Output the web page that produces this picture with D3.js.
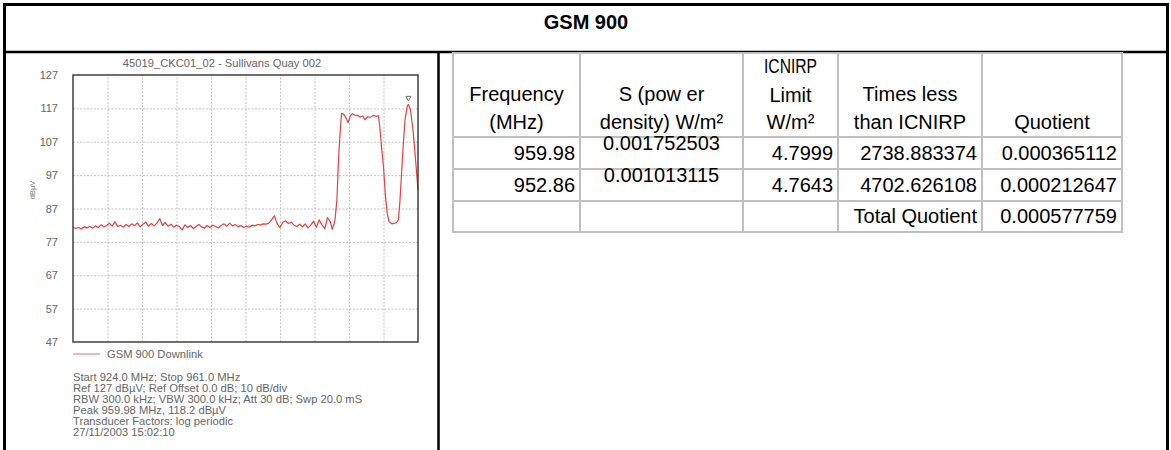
<!DOCTYPE html>
<html>
<head>
<meta charset="utf-8">
<script src="https://cdn.jsdelivr.net/npm/d3@7"></script>
<style>
  html, body { margin: 0; padding: 0; background: #fff; }
  svg { display: block; font-family: "Liberation Sans", Arial, sans-serif; }
</style>
</head>
<body>
<div id="chart"></div>
<script>
// spectrum trace [MHz, dBuV]
const trace = [
  [924.0, 81.4], [924.3, 81.0], [924.6, 81.3], [924.9, 80.9], [925.2, 81.5], [925.5, 81.2],
  [925.8, 81.6], [926.1, 81.1], [926.4, 81.8], [926.7, 81.3], [927.0, 82.1], [927.3, 81.5],
  [927.6, 81.9], [927.9, 82.6], [928.2, 81.7], [928.5, 83.0], [928.8, 81.6], [929.1, 82.0],
  [929.4, 81.4], [929.7, 82.2], [930.0, 81.6], [930.3, 82.4], [930.6, 81.8], [930.9, 82.7],
  [931.2, 81.5], [931.5, 82.3], [931.8, 82.9], [932.1, 81.7], [932.4, 82.5], [932.7, 81.8],
  [933.0, 82.6], [933.3, 84.0], [933.6, 81.9], [933.9, 82.8], [934.2, 81.7], [934.5, 82.3],
  [934.8, 81.4], [935.1, 82.0], [935.4, 81.6], [935.7, 80.6], [936.0, 82.1], [936.3, 81.3],
  [936.6, 81.9], [936.9, 81.0], [937.2, 81.6], [937.5, 82.2], [937.8, 81.5], [938.1, 81.1],
  [938.4, 81.9], [938.7, 81.3], [939.0, 82.0], [939.3, 81.6], [939.6, 81.2], [939.9, 81.9],
  [940.2, 82.4], [940.5, 81.7], [940.8, 82.6], [941.1, 81.8], [941.4, 82.2], [941.7, 81.5],
  [942.0, 81.9], [942.3, 81.3], [942.6, 81.7], [942.9, 81.4], [943.2, 82.0], [943.5, 81.8],
  [943.8, 82.2], [944.1, 82.1], [944.4, 82.4], [944.7, 82.3], [945.0, 82.6], [945.3, 83.6],
  [945.6, 84.8], [945.9, 82.4], [946.2, 81.3], [946.5, 82.8], [946.8, 83.3], [947.1, 82.5],
  [947.4, 82.9], [947.7, 82.0], [948.0, 81.6], [948.3, 82.3], [948.6, 81.5], [948.9, 82.4],
  [949.2, 81.2], [949.5, 82.0], [949.8, 83.2], [950.1, 81.4], [950.4, 83.6], [950.7, 82.1],
  [951.0, 81.0], [951.3, 84.3], [951.6, 83.0], [951.8, 80.8], [952.0, 82.5], [952.1, 83.6],
  [952.3, 89.5], [952.5, 103.0], [952.65, 110.0], [952.8, 115.5], [953.05, 115.2], [953.3, 114.0],
  [953.5, 112.7], [953.75, 114.8], [953.95, 115.4], [954.2, 115.0], [954.5, 114.9], [954.8, 114.4],
  [955.1, 114.7], [955.3, 113.6], [955.6, 114.5], [955.9, 114.3], [956.2, 114.9], [956.5, 114.6],
  [956.75, 114.8], [956.9, 111.5], [957.1, 105.0], [957.3, 99.5], [957.5, 91.0], [957.7, 85.5],
  [957.9, 83.0], [958.2, 82.4], [958.5, 82.6], [958.7, 82.8], [958.9, 83.6], [959.07, 89.5],
  [959.36, 103.5], [959.6, 113.5], [959.86, 117.8], [959.98, 118.2], [960.2, 116.5], [960.5, 109.5],
  [960.8, 99.5], [961.0, 92.5]
];
const peak = [959.98, 118.2];
const yTicks = [127, 117, 107, 97, 87, 77, 67, 57, 47];
const freqRange = [924, 961];

const chartTitle = "45019_CKC01_02 - Sullivans Quay 002";
const legendLabel = "GSM 900 Downlink";
const infoLines = [
  "Start 924.0 MHz; Stop 961.0 MHz",
  "Ref 127 dBµV; Ref Offset 0.0 dB; 10 dB/div",
  "RBW 300.0 kHz; VBW 300.0 kHz; Att 30 dB; Swp 20.0 mS",
  "Peak 959.98 MHz, 118.2 dBµV",
  "Transducer Factors: log periodic",
  "27/11/2003 15:02:10"
];

// table
const headers = [
  ["Frequency", "(MHz)"],
  ["S (pow er", "density) W/m²"],
  ["ICNIRP", "Limit", "W/m²"],
  ["Times less", "than ICNIRP"],
  ["Quotient"]
];
const frequencies = ["959.98", "952.86"];
const powerDensity = ["0.001752503", "0.001013115"];
const icnirpLimit = ["4.7999", "4.7643"];
const timesLess = ["2738.883374", "4702.626108"];
const quotients = ["0.000365112", "0.000212647"];
const totalLabel = "Total Quotient";
const totalQuotient = "0.000577759";

const W = 1171, H = 450;
const svg = d3.select("#chart").append("svg")
  .attr("width", W)
  .attr("height", H);

svg.append("rect").attr("width", W).attr("height", H).attr("fill", "#fff");

// outer frame
svg.append("path")
  .attr("d", "M4.5,450 V4.5 H1167.5 V450")
  .attr("fill", "none").attr("stroke", "#000").attr("stroke-width", 3);
svg.append("line")
  .attr("x1", 4.5).attr("x2", 1167.5).attr("y1", 52).attr("y2", 52)
  .attr("stroke", "#000").attr("stroke-width", 2.5);
svg.append("line")
  .attr("x1", 438.5).attr("x2", 438.5).attr("y1", 52).attr("y2", 450)
  .attr("stroke", "#000").attr("stroke-width", 2.5);

svg.append("text")
  .attr("x", 586).attr("y", 29)
  .attr("text-anchor", "middle")
  .attr("font-weight", "bold")
  .attr("font-size", 20)
  .attr("fill", "#000")
  .text("GSM 900");

// ---- spectrum plot ----
const plot = {left: 73, top: 75, right: 418, bottom: 342};
const pw = plot.right - plot.left, ph = plot.bottom - plot.top;

const x = d3.scaleLinear().domain(freqRange).range([plot.left, plot.right]);
const y = d3.scaleLinear().domain([47, 127]).range([plot.bottom, plot.top]);

const g = svg.append("g");
const smallFont = 11.2;

// grid
g.append("g")
  .attr("transform", `translate(0,${plot.bottom})`)
  .call(d3.axisBottom(x).tickValues(d3.range(1, 10).map(i => freqRange[0] + i * (freqRange[1] - freqRange[0]) / 10))
    .tickSize(-ph).tickFormat(""))
  .call(a => a.select(".domain").remove())
  .selectAll("line").attr("stroke", "#c4c4c4").attr("stroke-dasharray", "2,1.5");

g.append("g")
  .attr("transform", `translate(${plot.left},0)`)
  .call(d3.axisLeft(y).tickValues(yTicks.slice(1, -1)).tickSize(-pw).tickFormat(""))
  .call(a => a.select(".domain").remove())
  .selectAll("line").attr("stroke", "#c4c4c4").attr("stroke-dasharray", "2,1.5");

// y labels
g.append("g")
  .attr("transform", `translate(${plot.left},0)`)
  .call(d3.axisLeft(y).tickValues(yTicks).tickSize(0).tickPadding(15))
  .call(a => a.select(".domain").remove())
  .selectAll("text")
  .attr("fill", "#666")
  .attr("font-size", 11)
  .attr("font-family", "Liberation Sans, Arial, sans-serif");

g.append("text")
  .attr("transform", "translate(35,190) rotate(-90)")
  .attr("text-anchor", "middle")
  .attr("font-size", 7.5)
  .attr("fill", "#777")
  .text("dBµV");

g.append("text")
  .attr("x", 222).attr("y", 67)
  .attr("text-anchor", "middle")
  .attr("font-size", smallFont)
  .attr("fill", "#666")
  .text(chartTitle);

// trace
const line = d3.line().x(d => x(d[0])).y(d => y(d[1]));
g.append("path")
  .datum(trace)
  .attr("d", line)
  .attr("fill", "none")
  .attr("stroke", "#e5423f")
  .attr("stroke-width", 1.2)
  .attr("stroke-linejoin", "round");

// peak marker
const px = x(peak[0]), py = y(peak[1]) - 5;
g.append("path")
  .attr("d", `M${px - 2.5},${py - 3} L${px + 2.5},${py - 3} L${px},${py + 1.5} Z`)
  .attr("fill", "#fff")
  .attr("stroke", "#555")
  .attr("stroke-width", 0.8);

// plot frame
g.append("rect")
  .attr("x", plot.left).attr("y", plot.top)
  .attr("width", pw).attr("height", ph)
  .attr("fill", "none")
  .attr("stroke", "#333")
  .attr("stroke-width", 1.4);

// legend
g.append("line")
  .attr("x1", 73).attr("x2", 100).attr("y1", 354).attr("y2", 354)
  .attr("stroke", "#e88a8a").attr("stroke-width", 1.2);
g.append("text")
  .attr("x", 107).attr("y", 358)
  .attr("font-size", smallFont)
  .attr("fill", "#666")
  .text(legendLabel);

g.append("g")
  .selectAll("text")
  .data(infoLines)
  .enter().append("text")
    .attr("x", 73)
    .attr("y", (d, i) => 381 + i * 11)
    .attr("font-size", smallFont)
    .attr("fill", "#666")
    .text(d => d);

// ---- table ----
const colX = [453, 580, 743, 838, 982, 1122];
const rowY = [53, 137, 169, 201, 232];
const tbl = svg.append("g");

tbl.append("g").selectAll("line")
  .data(colX).enter().append("line")
    .attr("x1", d => d).attr("x2", d => d)
    .attr("y1", rowY[0]).attr("y2", rowY[rowY.length - 1])
    .attr("stroke", "#c0c0c0").attr("stroke-width", 2);
tbl.append("g").selectAll("line")
  .data(rowY).enter().append("line")
    .attr("x1", colX[0] - 1).attr("x2", colX[colX.length - 1] + 1)
    .attr("y1", d => d).attr("y2", d => d)
    .attr("stroke", "#c0c0c0").attr("stroke-width", 2);

const cellFont = 20;
// header cells
headers.forEach((lines, c) => {
  const cx = (colX[c] + colX[c + 1]) / 2;
  const baselines = lines.length === 3 ? [73, 102, 129] : lines.length === 2 ? [101, 129] : [129];
  lines.forEach((t, k) => {
    const txt = tbl.append("text")
      .attr("x", cx).attr("y", baselines[k])
      .attr("text-anchor", "middle")
      .attr("font-size", cellFont)
      .attr("fill", "#000")
      .text(t);
    if (t === "ICNIRP") txt.attr("textLength", 53).attr("lengthAdjust", "spacingAndGlyphs");
  });
});

function rightCell(col, row, t) {
  tbl.append("text")
    .attr("x", colX[col + 1] - 5)
    .attr("y", rowY[row + 1] - 9)
    .attr("text-anchor", "end")
    .attr("font-size", cellFont)
    .attr("fill", "#000")
    .text(t);
}

frequencies.forEach((v, i) => rightCell(0, i + 1, v));
powerDensity.forEach((v, i) => {
  tbl.append("text")
    .attr("x", (colX[1] + colX[2]) / 2)
    .attr("y", rowY[i + 1] + 13)
    .attr("text-anchor", "middle")
    .attr("font-size", cellFont)
    .attr("fill", "#000")
    .text(v);
});
icnirpLimit.forEach((v, i) => rightCell(2, i + 1, v));
timesLess.forEach((v, i) => rightCell(3, i + 1, v));
quotients.forEach((v, i) => rightCell(4, i + 1, v));
rightCell(3, 3, totalLabel);
rightCell(4, 3, totalQuotient);
</script>
</body>
</html>
